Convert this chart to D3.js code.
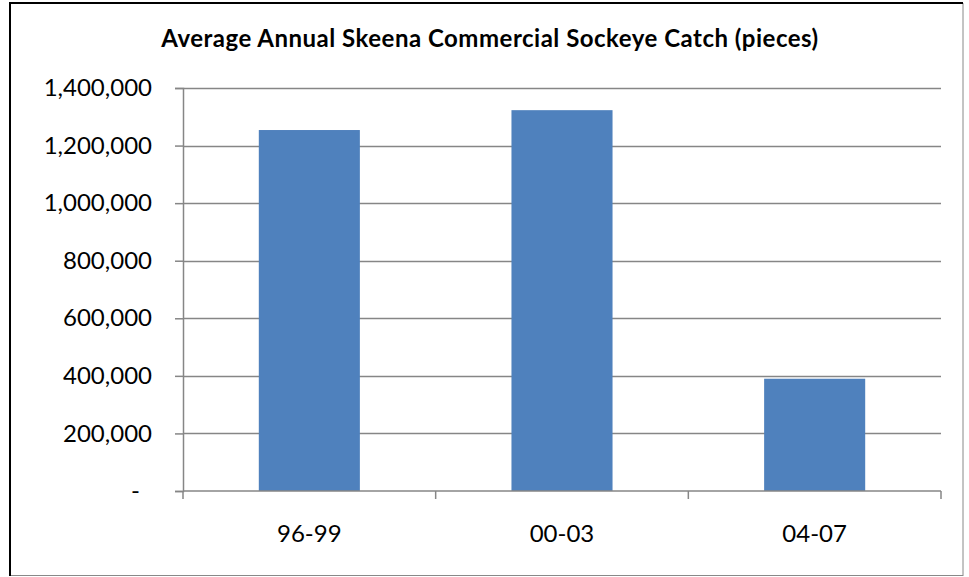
<!DOCTYPE html>
<meta charset="utf-8">
<head>
  <style>
    body {margin: 0; background: #ffffff;}
    text {font-family: Lato, "Open Sans", sans-serif; fill: #000;}
    .axis path, .axis line {stroke: #868686;}
  </style>
  <title></title>
</head>
<body>
  <script src="https://d3js.org/d3.v7.min.js"></script>
  <script>
  // chart values
  const title = "Average Annual Skeena Commercial Sockeye Catch (pieces)";
  const periods = ["96-99", "00-03", "04-07"];
  const catches = [1254000, 1323000, 390000];
  const yTicks = [0, 200000, 400000, 600000, 800000, 1000000, 1200000, 1400000];

  const W = 969, H = 577;
  const margin = {top: 88, right: 28, bottom: 86, left: 183},
    width = 941 - margin.left,
    height = 491 - margin.top;

  const svg = d3.select("body").append("svg")
    .attr("width", W)
    .attr("height", H);

  // frame
  svg.append("rect")
    .attr("x", 10).attr("y", 3.5)
    .attr("width", 953).attr("height", 572)
    .attr("fill", "#fff")
    .attr("stroke", "#888").attr("stroke-width", 1);
  svg.append("path")
    .attr("d", "M10,576 V3 H963")
    .attr("fill", "none").attr("stroke", "#000").attr("stroke-width", 2);

  svg.append("text")
    .attr("x", 490).attr("y", 47)
    .attr("text-anchor", "middle")
    .style("font-weight", "bold")
    .style("font-size", "24px")
    .style("letter-spacing", "0.5px")
    .text(title);

  const g = svg.append("g")
    .attr("transform", "translate(" + margin.left + "," + margin.top + ")");

  const x = d3.scaleBand().domain(periods).range([0, width]).paddingInner(0.6).paddingOuter(0.3);
  const y = d3.scaleLinear().domain([0, 1400000]).range([height, 0]);

  // gridlines
  g.append("g")
    .selectAll("line")
    .data(yTicks.filter(d => d > 0))
    .join("line")
    .attr("x1", 0).attr("x2", width)
    .attr("y1", d => Math.round(y(d)) + 0.5).attr("y2", d => Math.round(y(d)) + 0.5)
    .attr("stroke", "#868686").attr("stroke-width", 1.5);

  g.selectAll("rect.bar")
    .data(catches)
    .join("rect")
    .attr("class", "bar")
    .attr("x", (d, i) => x(periods[i]))
    .attr("y", d => y(d))
    .attr("width", x.bandwidth())
    .attr("height", d => height - y(d))
    .attr("fill", "#4f81bd");

  const fmt = d3.format(",");
  const yAxis = g.append("g").attr("class", "axis")
    .call(d3.axisLeft(y).tickValues(yTicks).tickSize(8).tickPadding(23)
      .tickFormat(d => d === 0 ? "-" : fmt(d)));
  yAxis.selectAll("path, line").attr("stroke-width", 1.5);
  yAxis.selectAll("text").style("font-size", "24px").attr("fill", "#000");
  yAxis.selectAll("text").filter(d => d === 0).attr("dx", "-12");

  // category axis, ticks at band boundaries
  const xAxis = g.append("g").attr("class", "axis")
    .attr("transform", "translate(0," + height + ")");
  xAxis.append("line").attr("x1", 0).attr("x2", width).attr("stroke-width", 1.5);
  const step = width / periods.length;
  xAxis.selectAll("line.tk")
    .data(d3.range(periods.length + 1))
    .join("line").attr("class", "tk")
    .attr("x1", d => d * step).attr("x2", d => d * step)
    .attr("y1", 0).attr("y2", 8).attr("stroke-width", 1.5);
  xAxis.selectAll("text")
    .data(periods)
    .join("text")
    .attr("x", d => x(d) + x.bandwidth() / 2)
    .attr("y", 51)
    .attr("text-anchor", "middle")
    .style("font-size", "24px")
    .text(d => d);
  </script>
</body>
</html>
